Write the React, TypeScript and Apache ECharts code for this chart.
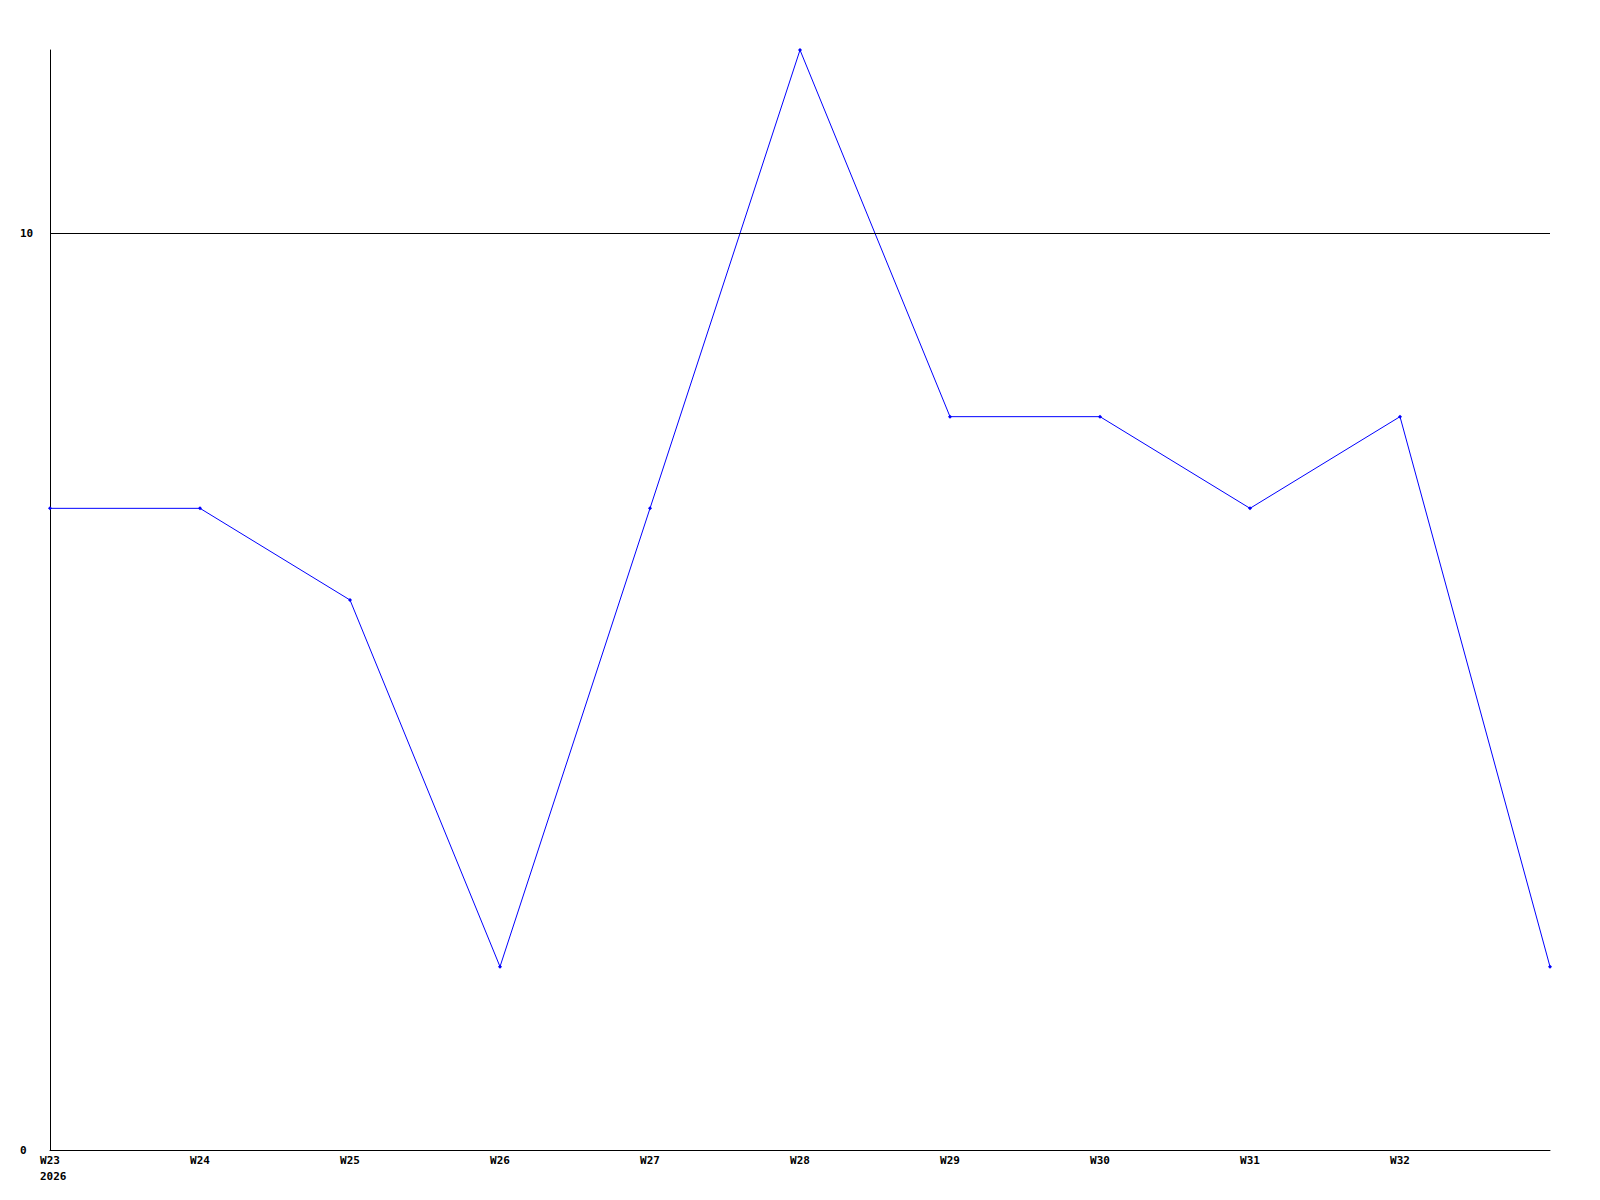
import React, { useEffect, useRef } from "react";
import * as echarts from "echarts";

const categories = ["W23", "W24", "W25", "W26", "W27", "W28", "W29", "W30", "W31", "W32", "W33"];
const xTickLabels = ["W23", "W24", "W25", "W26", "W27", "W28", "W29", "W30", "W31", "W32", ""];
const yearLabel = "2026";
const values = [7, 7, 6, 2, 7, 12, 8, 8, 7, 8, 2];
const yLabelValues = [0, 10];
const referenceLine = 10;

export default function App() {
  const ref = useRef<HTMLDivElement>(null);
  useEffect(() => {
    if (!ref.current) return;
    const chart = echarts.init(ref.current, undefined, { renderer: "svg" });
    const font = { fontFamily: "DejaVu Sans Mono", fontWeight: "bold" as const, fontSize: 11, color: "#000" };
    chart.setOption({
      animation: false,
      backgroundColor: "#fff",
      grid: { left: 50, right: 50, top: 50, bottom: 50, containLabel: false },
      xAxis: {
        type: "category",
        data: categories,
        boundaryGap: false,
        axisLine: { show: true, lineStyle: { color: "#000", width: 1 } },
        axisTick: { show: false },
        splitLine: { show: false },
        axisLabel: {
          ...font,
          interval: 0,
          margin: 5,
          formatter: (_v: string, i: number) => xTickLabels[i],
        },
      },
      yAxis: {
        type: "value",
        min: 0,
        max: 12,
        interval: 10,
        axisLine: { show: true, lineStyle: { color: "#000", width: 1 } },
        axisTick: { show: false },
        splitLine: { show: false },
        axisLabel: {
          ...font,
          align: "left",
          margin: 30,
          formatter: (v: number) => (yLabelValues.includes(v) ? String(v) : ""),
        },
      },
      graphic: [
        {
          type: "text",
          left: 40,
          top: 1171,
          style: {
            text: yearLabel,
            fill: "#000",
            font: "bold 11px 'DejaVu Sans Mono'",
          },
        },
      ],
      series: [
        {
          type: "line",
          data: values,
          symbol: "diamond",
          symbolSize: 4,
          showSymbol: true,
          lineStyle: { color: "#0000ff", width: 1 },
          itemStyle: { color: "#0000ff" },
          markLine: {
            silent: true,
            symbol: "none",
            label: { show: false },
            lineStyle: { color: "#000", width: 1, type: "solid" },
            data: [{ yAxis: referenceLine }],
          },
        },
      ],
    });
    return () => chart.dispose();
  }, []);
  return (
    <div
      ref={ref}
      style={{ position: "fixed", left: 0, top: 0, width: 1600, height: 1200, background: "#fff" }}
    />
  );
}
